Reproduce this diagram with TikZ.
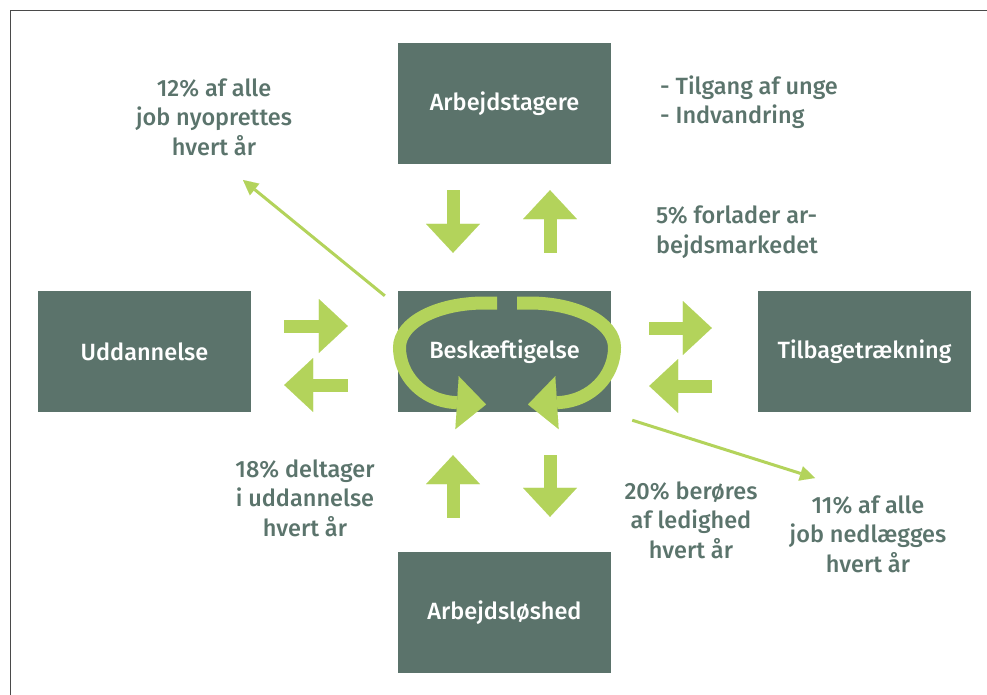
\documentclass[tikz,border=0pt]{standalone}
\usepackage{fontspec}
\setmainfont{Fira Sans}[UprightFont={* Medium}]
\usepackage{tikz}
\usetikzlibrary{arrows.meta,calc}

\definecolor{boxgreen}{HTML}{5B736B}
\definecolor{arrowgreen}{HTML}{B3D35B}
\definecolor{notegreen}{HTML}{5B746C}
\definecolor{framegray}{HTML}{4A4A4A}

\begin{document}
\begin{tikzpicture}[x=1pt,y=-1pt,
  box/.style={fill=boxgreen, minimum width=213pt, minimum height=121pt, inner sep=0pt, text=white, font=\fontsize{23.5}{26}\selectfont},
  note/.style={text=notegreen, inner sep=0pt, align=center, font=\fontsize{23.5}{29.5}\selectfont},
  blockarrow/.style={arrowgreen, line width=13pt, -{Triangle[width=54pt,length=29pt,line width=0.01pt]}},
  ringarrow/.style={arrowgreen, line width=13pt, -{Triangle[width=53pt,length=29pt,line width=0.01pt]}},
  thinarrow/.style={arrowgreen, line width=3pt, -{Triangle[width=15pt,length=15pt,line width=0.01pt]}}]
\useasboundingbox (0,0) rectangle (987,695);
%% frame
\draw[framegray, line width=1.5pt] (10.5,695) -- (10.5,10.5) -- (987,10.5);

%% boxes
\node[box] (arbejd) at (504.5,103.5) {Arbejdstagere};
\node[box] (besk) at (504.5,351.5) {Beskæftigelse};
\node[box] (udd) at (144.5,351.5) {Uddannelse};
\node[box] (tilb) at (864.5,351.5) {Tilbagetrækning};
\node[box] (ledig) at (504.5,612.5) {Arbejdsløshed};

%% block arrows
\draw[blockarrow] ($(arbejd.south)+(-51.5,26)$) -- ($(besk.north)+(-51.5,-38)$);
\draw[blockarrow] ($(besk.north)+(45.5,-38)$) -- ($(arbejd.south)+(45.5,26)$);
\draw[blockarrow] ($(ledig.north)+(-51.5,-34)$) -- ($(besk.south)+(-51.5,43)$);
\draw[blockarrow] ($(besk.south)+(45.5,43)$) -- ($(ledig.north)+(45.5,-35)$);
\draw[blockarrow] ($(udd.east)+(33,-25.5)$) -- ($(besk.west)+(-50,-25.5)$);
\draw[blockarrow] ($(besk.west)+(-50,33.5)$) -- ($(udd.east)+(33,33.5)$);
\draw[blockarrow] ($(besk.east)+(38,-23.5)$) -- ($(tilb.west)+(-46,-23.5)$);
\draw[blockarrow] ($(tilb.west)+(-46,34.5)$) -- ($(besk.east)+(38,34.5)$);

%% ring arrows
\begin{scope}[shift={(besk.center)}]
\draw[ringarrow] (-7.5,-48.5) -- (-20,-48.5) .. controls (-67,-48.5) and (-105,-29) .. (-105,-4)
  .. controls (-105,24) and (-82,49) .. (-50,51) -- (-18.5,53);
\draw[ringarrow] (12.5,-48.5) -- (25,-48.5) .. controls (72,-48.5) and (110,-29) .. (110,-4)
  .. controls (110,24) and (87,49) .. (55,51) -- (23.5,53);
\end{scope}

%% thin arrows
\coordinate (nyjob) at (243,180);
\coordinate (nedjob) at (815,478);
\draw[thinarrow] ($(besk.north west)+(-13,5)$) -- (nyjob);
\draw[thinarrow] ($(besk.south east)+(21,8)$) -- (nedjob);

%% notes
\node[note] (nyopr) at (214,117) {12\% af alle\\job nyoprettes\\hvert år};
\node[note, align=left, anchor=west] (tilgang) at (660,102) {- Tilgang af unge\\- Indvandring};
\node[note, align=left, anchor=west] (forlader) at (656,232) {5\% forlader ar-\\bejdsmarkedet};
\node[note] (deltager) at (305,498) {18\% deltager\\i uddannelse\\hvert år};
\node[note] (beroeres) at (691,520) {20\% berøres\\af ledighed\\hvert år};
\node[note] (nedl) at (868,534) {11\% af alle\\job nedlægges\\hvert år};
\end{tikzpicture}
\end{document}
